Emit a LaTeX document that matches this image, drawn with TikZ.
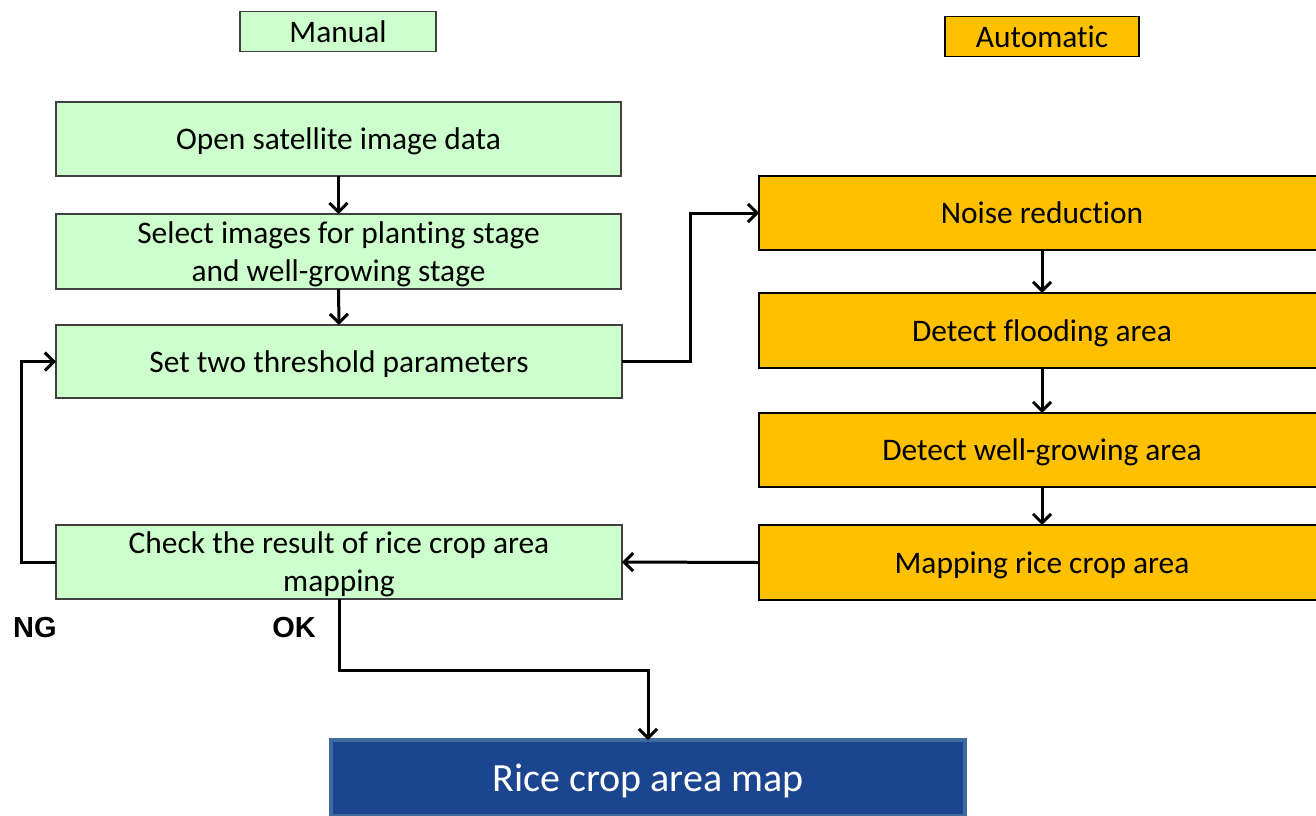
\documentclass[tikz,border=0pt]{standalone}
\usepackage{fontspec}
\setmainfont{Carlito}[Ligatures={NoCommon}]
\newfontfamily\arialfont{Liberation Sans}
\usetikzlibrary{arrows.meta}
\definecolor{greenfill}{HTML}{CCFFCC}
\definecolor{greenline}{HTML}{404040}
\definecolor{orangefill}{HTML}{FFC000}
\definecolor{bluefill}{HTML}{1B458F}
\definecolor{blueline}{HTML}{3F6A9E}
\tikzset{
  gbox/.style={draw=greenline, line width=0.7pt, fill=greenfill, inner sep=0pt, outer sep=0pt, align=center, text depth=0pt, font=\fontsize{15.7}{19}\selectfont},
  obox/.style={draw=black, line width=0.7pt, fill=orangefill, inner sep=0pt, outer sep=0pt, align=center, text depth=0pt, font=\fontsize{15.7}{19}\selectfont},
  bbox/.style={draw=blueline, line width=2pt, fill=bluefill, text=white, inner sep=0pt, outer sep=0pt, align=center, text depth=0pt, font=\fontsize{20}{24}\selectfont},
  arr/.style={line width=1.5pt, -{Straight Barb[length=4.5pt,width=9pt,line width=1.5pt]}},
  lbl/.style={font=\arialfont\bfseries\fontsize{14.5}{17}\selectfont, inner sep=0pt}
}
\begin{document}
\begin{tikzpicture}[x=0.5pt,y=-0.5pt]
\useasboundingbox (0,0) rectangle (1316,815);
% headers
\node[gbox, minimum width=98pt, minimum height=20pt] (manual) at (338,31.5) {Manual};
\node[obox, minimum width=97pt, minimum height=20pt] (auto) at (1042,36.5) {Automatic};
% manual column
\node[gbox, minimum width=282.5pt, minimum height=37pt] (open) at (338.5,139) {Open satellite image data};
\node[gbox, minimum width=282.5pt, minimum height=37.5pt] (select) at (338.5,251.5) {Select images for planting stage\\and well-growing stage};
\node[gbox, minimum width=283pt, minimum height=36.5pt] (set) at (339,361.5) {Set two threshold parameters};
\node[gbox, minimum width=283pt, minimum height=37pt] (check) at (339,562) {Check the result of rice crop area\\mapping};
% automatic column
\node[obox, minimum width=283pt, minimum height=37pt] (noise) at (1042,213) {Noise reduction};
\node[obox, minimum width=283pt, minimum height=37.5pt] (flood) at (1042,330.5) {Detect flooding area};
\node[obox, minimum width=283pt, minimum height=37pt] (well) at (1042,450) {Detect well-growing area};
\node[obox, minimum width=283pt, minimum height=37.5pt] (mapping) at (1042,562.5) {Mapping rice crop area};
% result
\node[bbox, minimum width=317pt, minimum height=38pt] (map) at (648,778) {Rice crop area map};
% labels
\node[lbl] (ng) at (35,628) {NG};
\node[lbl] (ok) at (294,628) {OK};
% helper coordinates
\coordinate (j1) at (690,0);
\coordinate (j2) at (21,0);
\coordinate (j3) at (0,670);
% connectors
\draw[arr] (open.south) -- (select.north);
\draw[arr] (select.south) -- (set.north);
\draw[arr] (set.east) -- (set.east -| j1) |- (noise.west);
\draw[arr] (noise.south) -- (flood.north);
\draw[arr] (flood.south) -- (well.north);
\draw[arr] (well.south) -- (mapping.north);
\draw[arr] (mapping.west) -- (check.east);
\draw[arr] (check.west) -- (check.west -| j2) |- (set.west);
\draw[arr] (check.south) -- (check.south |- j3) -| (map.north);
\end{tikzpicture}
\end{document}
